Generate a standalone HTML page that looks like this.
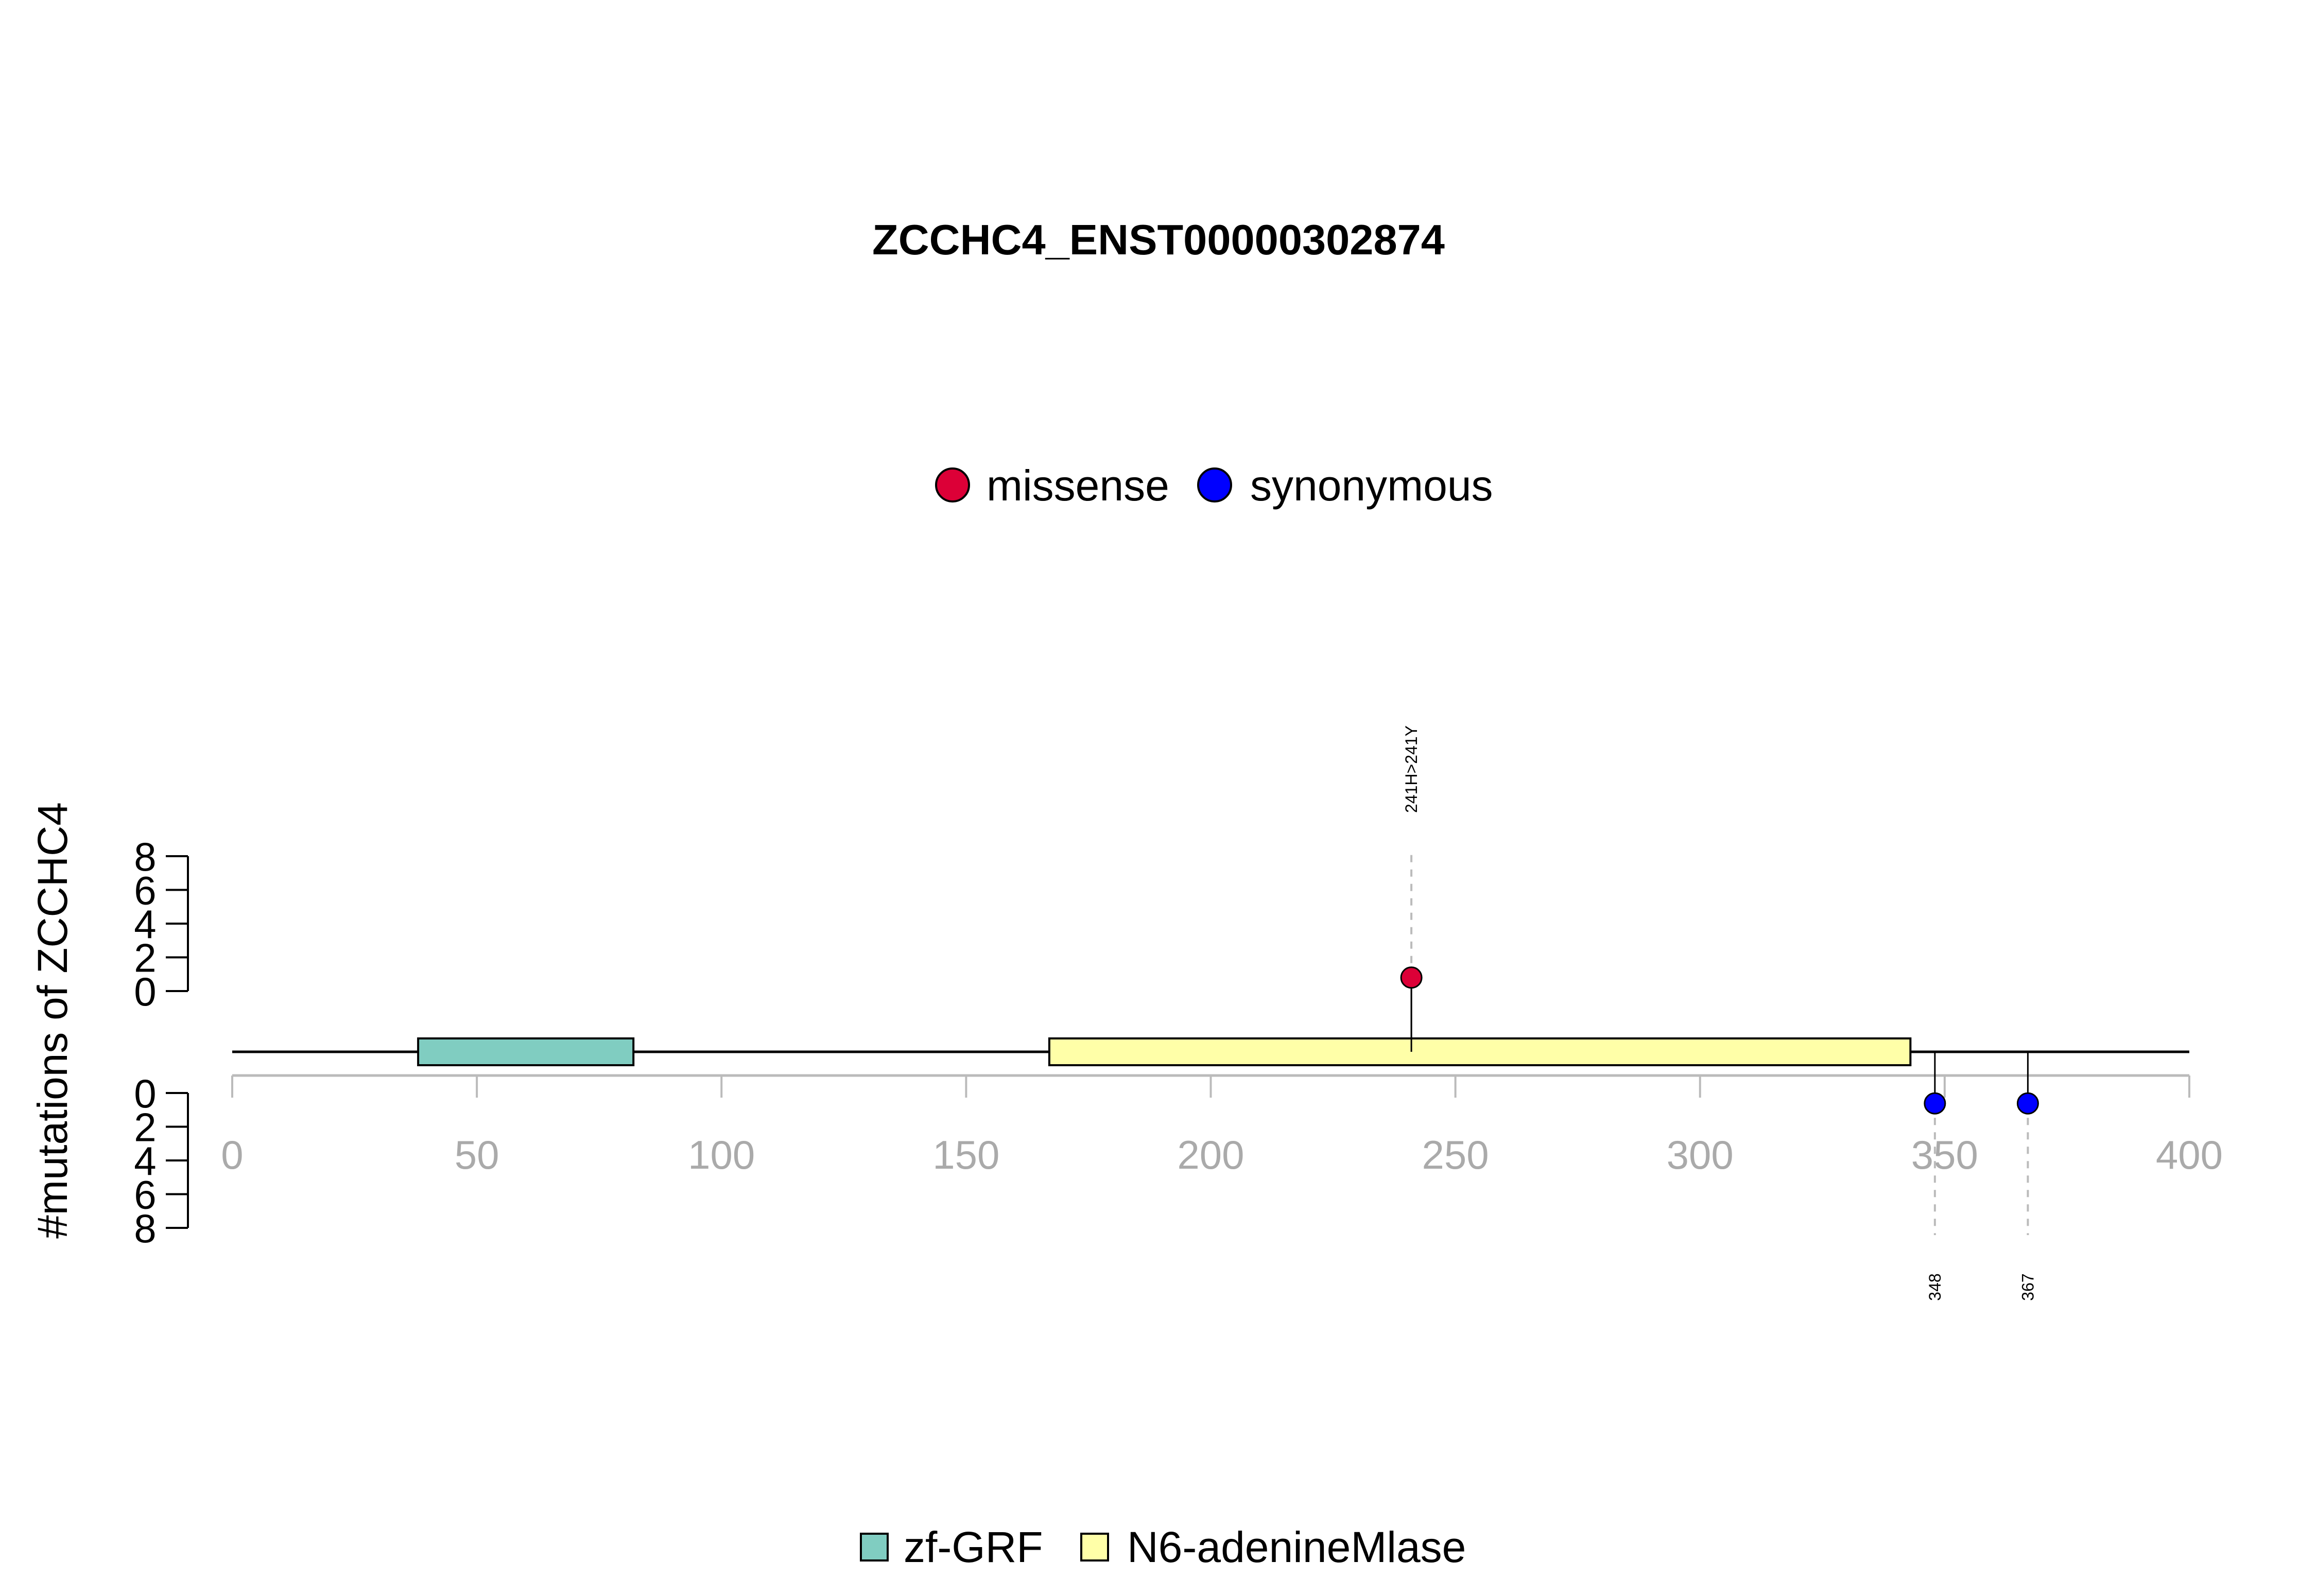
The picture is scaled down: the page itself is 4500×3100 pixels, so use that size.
<!DOCTYPE html>
<html><head><meta charset="utf-8"><style>
html,body{margin:0;padding:0;background:#fff}
svg{display:block;font-family:"Liberation Sans",Arial,sans-serif}
</style></head><body>
<svg id="chart" width="4500" height="3100" viewBox="0 0 4500 3100" xmlns="http://www.w3.org/2000/svg">
<rect width="4500" height="3100" fill="#fff"/>
<text x="2250" y="494" text-anchor="middle" font-size="83" font-weight="bold">ZCCHC4_ENST00000302874</text>
<g>
<circle cx="1850" cy="942" r="32" fill="#DC0037" stroke="#000" stroke-width="4"/>
<text x="1916" y="972" font-size="84">missense</text>
<circle cx="2359" cy="942" r="32" fill="#0000FF" stroke="#000" stroke-width="4"/>
<text x="2428" y="972" font-size="84">synonymous</text>
</g>
<text transform="translate(130,1982) rotate(-90)" text-anchor="middle" font-size="82">#mutations of ZCCHC4</text>
<g id="plot"></g>
<g>
<rect x="1672" y="2979" width="52" height="52" fill="#80CDC1" stroke="#000" stroke-width="4"/>
<text x="1755" y="3034" font-size="84">zf-GRF</text>
<rect x="2100" y="2979" width="52" height="52" fill="#FFFFA8" stroke="#000" stroke-width="4"/>
<text x="2189" y="3034" font-size="84">N6-adenineMlase</text>
</g>
</svg>
<script>
const xTicks = [0,50,100,150,200,250,300,350,400];
const yTicks = [0,2,4,6,8];
const domainNames = ["zf-GRF","N6-adenineMlase"];
const domainStarts = [38,167];
const domainEnds = [82,343];
const domainColors = ["#80CDC1","#FFFFA8"];
const mutPositions = [241,348,367];
const mutCounts = [1,1,1];
const mutTypes = ["missense","synonymous","synonymous"];
const mutLabels = ["241H>241Y","348","367"];
const proteinLength = 400;

const NS="http://www.w3.org/2000/svg";
const g=document.getElementById('plot');
const X=v=>451+(v/400)*(4252-451);
const YU=v=>1925-v*(1925-1663)/8;
const YD=v=>2123+v*(2385-2123)/8;
const BB=2043, AX=2089;
function mk(t,a){const e=document.createElementNS(NS,t);for(const k in a)e.setAttribute(k,a[k]);g.appendChild(e);return e;}
let e=mk('line',{x1:X(0),x2:X(400),y1:AX,y2:AX,stroke:'#bbb','stroke-width':5});


xTicks.forEach(t=>{
  let l=mk('line',{x1:X(t),x2:X(t),y1:AX,y2:2132,stroke:'#bbb','stroke-width':4});
  
  
  let tx=mk('text',{x:X(t),y:2270,'text-anchor':'middle','font-size':78,fill:'#aaa'});
  tx.textContent=t;
  
  
});
[[YU,'upper'],[YD,'lower']].forEach(([Y,n])=>{
  let l=mk('line',{x1:365,x2:365,y1:Y(0),y2:Y(8),stroke:'#000','stroke-width':4});
  
  
  yTicks.forEach(t=>{
    let k=mk('line',{x1:322,x2:365,y1:Y(t),y2:Y(t),stroke:'#000','stroke-width':4});
    
    
    let tx=mk('text',{x:282,y:Y(t)+28,'text-anchor':'middle','font-size':78});
    tx.textContent=t;
    
    
  });
});
e=mk('line',{x1:X(0),x2:X(proteinLength),y1:BB,y2:BB,stroke:'#000','stroke-width':5});


const pts=[];
mutPositions.forEach((p,i)=>{
  const up=mutTypes[i]==='missense';
  const cy=up?YU(mutCounts[i]-0.2):YD(mutCounts[i]-0.2)-6;
  let s=mk('line',{x1:X(p),x2:X(p),y1:BB,y2:cy,stroke:'#000','stroke-width':3});
  
  
  let d=mk('line',{x1:X(p),x2:X(p),y1:cy,y2:up?1652:2399,stroke:'#bbb','stroke-width':4,'stroke-dasharray':'14 14'});
  
  
  pts.push([p,cy,up,i]);
});
domainNames.forEach((n,i)=>{
  let r=mk('rect',{x:X(domainStarts[i]),y:BB-26,width:X(domainEnds[i])-X(domainStarts[i]),height:52,fill:domainColors[i],stroke:'#000','stroke-width':4});
  
  
});
pts.forEach(([p,cy,up,i])=>{
  if(up){let s=mk('line',{x1:X(p),x2:X(p),y1:BB,y2:cy,stroke:'#000','stroke-width':3});
  
  }
  let c=mk('circle',{cx:X(p),cy:cy,r:20,fill:up?'#DC0037':'#0000FF',stroke:'#000','stroke-width':3});
  
  
  const ly=up?1494:2500;
  let t=mk('text',{transform:`translate(${X(p)+11},${ly}) rotate(-90)`,'text-anchor':'middle','font-size':32});
  t.textContent=mutLabels[i];
  
  
});
</script>
</body></html>
